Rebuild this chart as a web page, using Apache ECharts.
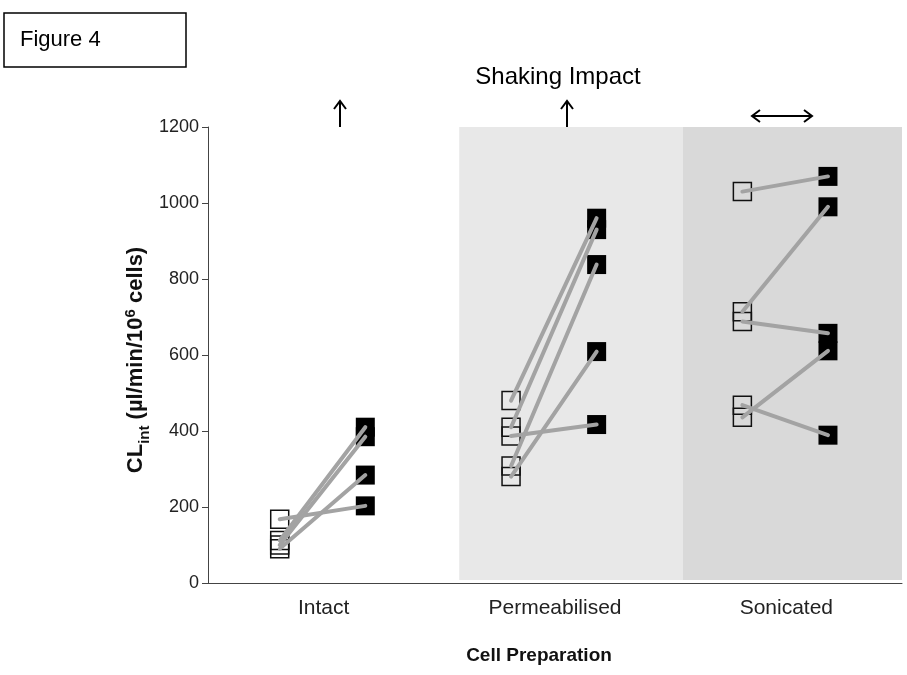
<!DOCTYPE html>
<html>
<head>
<meta charset="utf-8">
<script src="https://cdn.jsdelivr.net/npm/echarts@6/dist/echarts.min.js"></script>
<style>html,body{margin:0;padding:0;background:#fff}#c{width:907px;height:675px}</style>
</head>
<body>
<div id="c"></div>
<script>
const categories = ['Intact', 'Permeabilised', 'Sonicated'];
const yTicks = [0, 200, 400, 600, 800, 1000, 1200];
// values before (open squares) and after (filled squares) shaking, per preparation
const intactBefore = [168, 112, 100, 90];
const intactAfter  = [203, 410, 385, 284];
const permBefore   = [480, 410, 308, 280, 387];
const permAfter    = [960, 930, 838, 609, 417];
const sonBefore    = [1030, 714, 688, 468, 436];
const sonAfter     = [1070, 990, 657, 389, 611];

const groups = [
  [intactBefore, intactAfter],
  [permBefore, permAfter],
  [sonBefore, sonAfter]
];
const OFF_B = -0.19, OFF_A = 0.18;
const FONT = 'Liberation Sans';

const openPts = [], fillPts = [], pairSeries = [];
groups.forEach(([b, a], gi) => {
  b.forEach((v, i) => {
    openPts.push([gi + OFF_B, v]);
    fillPts.push([gi + OFF_A, a[i]]);
    pairSeries.push({
      type: 'line', xAxisIndex: 1, yAxisIndex: 0, z: 5,
      symbol: 'none', silent: true,
      lineStyle: { color: '#a3a3a3', width: 4, cap: 'round', opacity: 1 },
      data: [[gi + OFF_B, v], [gi + OFF_A, a[i]]]
    });
  });
});

const chart = echarts.init(document.getElementById('c'), null, { renderer: 'canvas' });
chart.setOption({
  animation: false,
  backgroundColor: '#fff',
  textStyle: { fontFamily: FONT },
  grid: { left: 208, right: 5, top: 127, bottom: 92, containLabel: false },
  xAxis: [
    {
      type: 'category', data: categories, boundaryGap: true,
      axisLine: { onZero: false, lineStyle: { color: '#444', width: 1 } },
      axisTick: { alignWithLabel: true, length: 8, lineStyle: { color: '#444' } },
      axisLabel: { color: '#222', fontSize: 21, margin: 15, fontFamily: FONT },
      name: 'Cell Preparation', nameLocation: 'middle', nameGap: 63,
      nameTextStyle: { color: '#111', fontSize: 19, fontWeight: 'bold', fontFamily: FONT, padding: [0, 32, 0, 0] }
    },
    { type: 'value', min: -0.5, max: 2.5, show: false }
  ],
  yAxis: {
    type: 'value', min: 0, max: 1200, interval: 200,
    axisLine: { show: true, onZero: false, lineStyle: { color: '#444', width: 1 } },
    axisTick: { show: true, length: 6, lineStyle: { color: '#444' } },
    splitLine: { show: false },
    axisLabel: { color: '#222', fontSize: 18, margin: 9, fontFamily: FONT,
      formatter: v => yTicks.includes(v) ? String(v) : '' },
    name: '{a|CL}{sub|int}{a| (µl/min/10}{sup|6}{a| cells)}',
    nameLocation: 'middle', nameRotate: 90, nameGap: 58, nameMoveOverlap: false,
    nameTextStyle: {
      color: '#111', fontFamily: FONT, padding: [0, 10, 0, 0],
      rich: {
        a: { fontSize: 22, fontWeight: 'bold', fontFamily: FONT, color: '#111', lineHeight: 28, verticalAlign: 'middle' },
        sub: { fontSize: 15, fontWeight: 'bold', fontFamily: FONT, color: '#111', lineHeight: 28, verticalAlign: 'bottom', padding: [0, 0, -2, 0] },
        sup: { fontSize: 15, fontWeight: 'bold', fontFamily: FONT, color: '#111', lineHeight: 28, verticalAlign: 'top', padding: [1, 0, 0, 0] }
      }
    }
  },
  series: [
    {
      type: 'scatter', xAxisIndex: 1, data: [], z: 1, silent: true,
      markArea: {
        silent: true,
        data: [
          [{ xAxis: 0.586, yAxis: 8, itemStyle: { color: '#e8e8e8', opacity: 1 } }, { xAxis: 1.552, yAxis: 1200 }],
          [{ xAxis: 1.552, yAxis: 8, itemStyle: { color: '#d9d9d9', opacity: 1 } }, { xAxis: 2.5, yAxis: 1200 }]
        ]
      }
    },
    {
      type: 'scatter', xAxisIndex: 1, z: 3, symbol: 'rect', symbolSize: 18,
      itemStyle: { color: 'rgba(0,0,0,0)', borderColor: '#111', borderWidth: 1.5, opacity: 1 },
      data: openPts
    },
    {
      type: 'scatter', xAxisIndex: 1, z: 3, symbol: 'rect', symbolSize: 19,
      itemStyle: { color: '#000', opacity: 1 },
      data: fillPts
    },
    ...pairSeries
  ],
  graphic: [
    { type: 'rect', shape: { x: 4, y: 13, width: 182, height: 54 },
      style: { fill: '#fff', stroke: '#000', lineWidth: 1.5 } },
    { type: 'text', x: 20, y: 40, style: { text: 'Figure 4', font: '22px "Liberation Sans"', fill: '#000', verticalAlign: 'middle' } },
    { type: 'text', x: 558, y: 77, style: { text: 'Shaking Impact', font: '24px "Liberation Sans"', fill: '#000', align: 'center', verticalAlign: 'middle' } },
    { type: 'line', shape: { x1: 340, y1: 127, x2: 340, y2: 101 }, style: { stroke: '#000', lineWidth: 2 } },
    { type: 'polyline', shape: { points: [[334, 109], [340, 101], [346, 109]] }, style: { stroke: '#000', lineWidth: 2, fill: null } },
    { type: 'line', shape: { x1: 567, y1: 128, x2: 567, y2: 101 }, style: { stroke: '#000', lineWidth: 2 } },
    { type: 'polyline', shape: { points: [[561, 109], [567, 101], [573, 109]] }, style: { stroke: '#000', lineWidth: 2, fill: null } },
    { type: 'line', shape: { x1: 752, y1: 116, x2: 812, y2: 116 }, style: { stroke: '#000', lineWidth: 2 } },
    { type: 'polyline', shape: { points: [[760, 110], [752, 116], [760, 122]] }, style: { stroke: '#000', lineWidth: 2, fill: null } },
    { type: 'polyline', shape: { points: [[804, 110], [812, 116], [804, 122]] }, style: { stroke: '#000', lineWidth: 2, fill: null } }
  ]
});
</script>
</body>
</html>
